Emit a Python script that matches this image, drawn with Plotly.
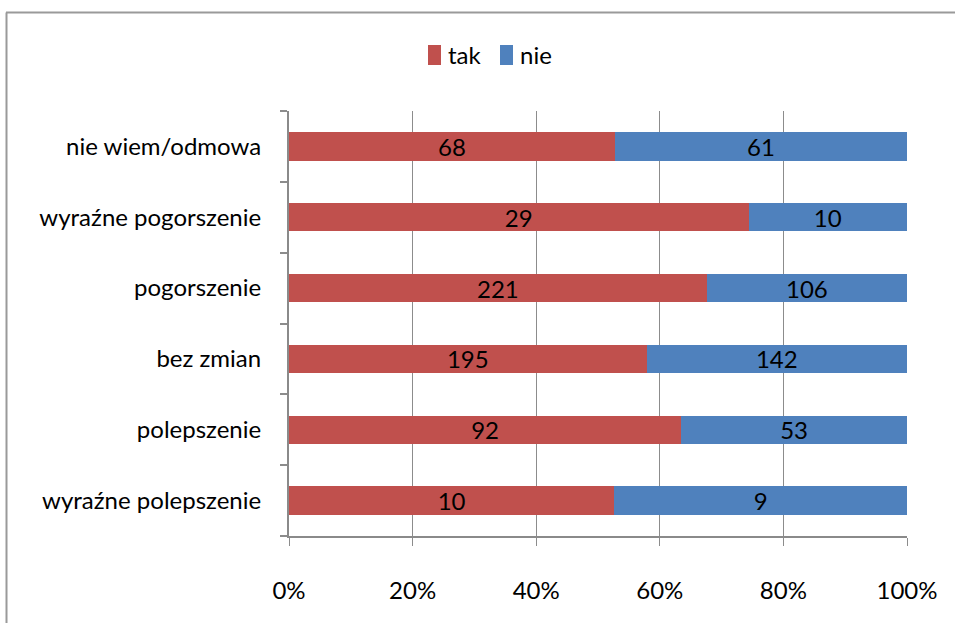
import plotly.graph_objects as go

categories = ["wyraźne polepszenie", "polepszenie", "bez zmian", "pogorszenie",
              "wyraźne pogorszenie", "nie wiem/odmowa"]
tak = [10, 92, 195, 221, 29, 68]
nie = [9, 53, 142, 106, 10, 61]
tick_vals = [0, 20, 40, 60, 80, 100]
tick_text = ["0%", "20%", "40%", "60%", "80%", "100%"]

FONT = "Lato, Calibri, 'Open Sans', sans-serif"
FS = 24
W, H = 955, 623
L, R, T, B = 289, 48, 111, 87
pw, ph = W - L - R, H - T - B

series = (("tak", tak, "#C0504D"), ("nie", nie, "#4F81BD"))

fig = go.Figure()
for name, vals, color in series:
    fig.add_trace(go.Bar(y=categories, x=vals, name=name, orientation="h",
                         marker=dict(color=color, line=dict(width=0)),
                         text=vals, textposition="inside",
                         insidetextanchor="middle", textangle=0,
                         constraintext="none", showlegend=False,
                         textfont=dict(color="black", size=FS, family=FONT),
                         hoverinfo="skip"))


def px_x(p):
    return (p - L) / pw


def px_y(p):
    return (H - B - p) / ph


# outer chart frame (top and left edges visible)
frame = dict(color="#9a9a9a", width=2)
fig.add_shape(type="line", xref="paper", yref="paper",
              x0=px_x(6), x1=px_x(960), y0=px_y(12.5), y1=px_y(12.5), line=frame)
fig.add_shape(type="line", xref="paper", yref="paper",
              x0=px_x(6.5), x1=px_x(6.5), y0=px_y(12.5), y1=px_y(630), line=frame)

# legend: tall colour swatch followed by the series name
legend_x = (428, 500)
for (name, _, color), sx in zip(series, legend_x):
    fig.add_shape(type="rect", xref="paper", yref="paper",
                  x0=px_x(sx), x1=px_x(sx + 13), y0=px_y(65), y1=px_y(45),
                  fillcolor=color, line=dict(width=0))
    fig.add_annotation(xref="paper", yref="paper", x=px_x(sx + 18), y=px_y(55),
                       xanchor="left", yanchor="middle", showarrow=False,
                       text=name, font=dict(size=FS, family=FONT, color="black"))

fig.update_layout(
    width=W, height=H,
    margin=dict(l=L, r=R, t=T, b=B),
    barmode="stack", barnorm="percent", bargap=0.6,
    plot_bgcolor="white", paper_bgcolor="white",
    font=dict(family=FONT, size=FS, color="black"),
    uniformtext=dict(minsize=FS, mode="show"),
    showlegend=False,
    xaxis=dict(range=[0, 100], tickvals=tick_vals, ticktext=tick_text,
               showgrid=True, gridcolor="#8c8c8c", gridwidth=1,
               showline=True, linecolor="#8a8a8a", linewidth=2,
               ticks="outside", ticklen=8, tickcolor="#8c8c8c", tickwidth=1,
               ticklabelstandoff=24, zeroline=False, fixedrange=True),
    yaxis=dict(categoryorder="array", categoryarray=categories,
               showline=True, linecolor="#8a8a8a", linewidth=2,
               ticks="outside", tickson="boundaries", ticklen=7,
               tickcolor="#8c8c8c", tickwidth=2,
               ticklabelstandoff=21, showgrid=False, fixedrange=True),
)

fig.write_html("out.html")
